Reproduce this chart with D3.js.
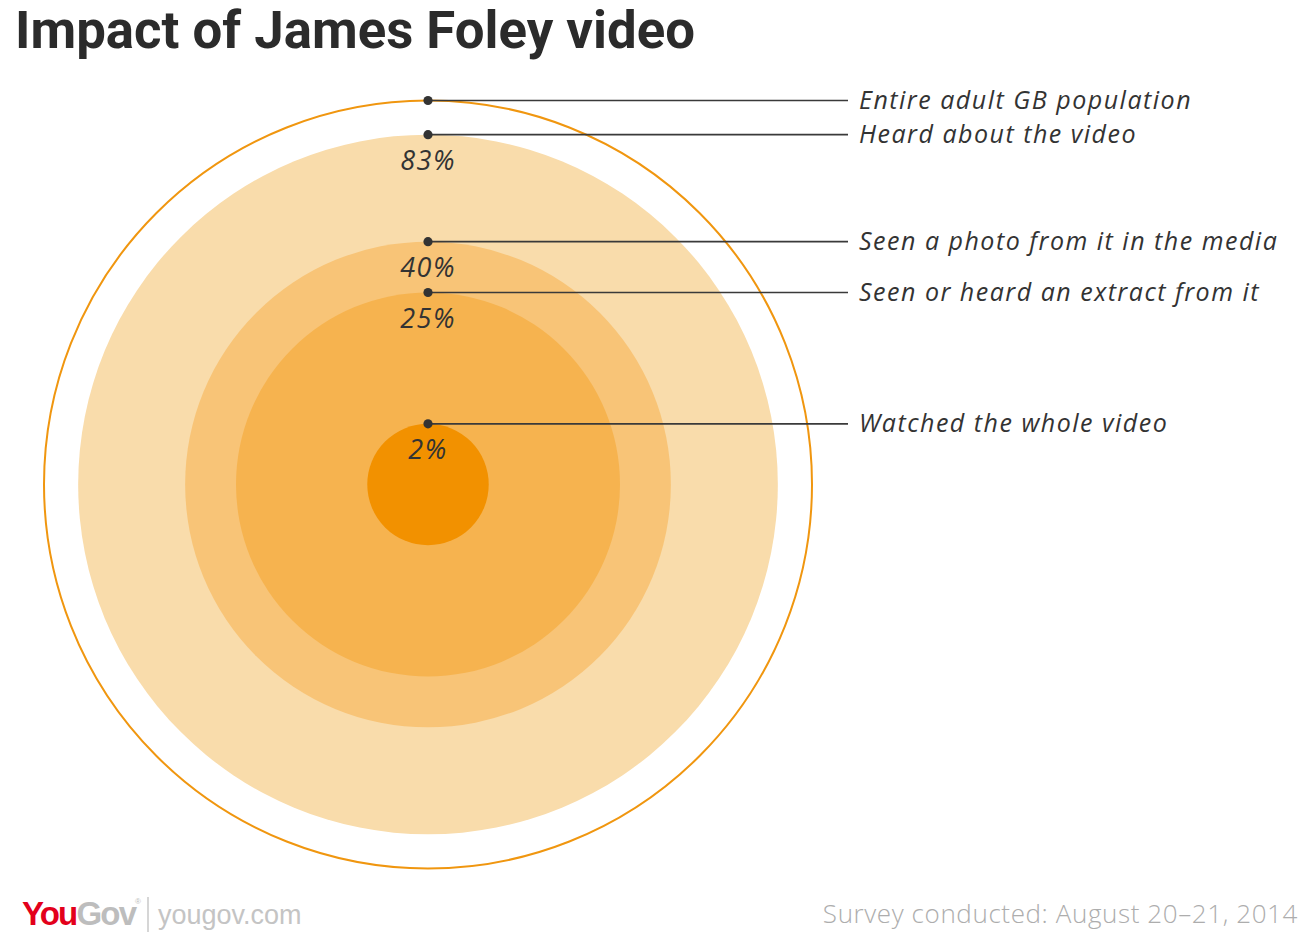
<!DOCTYPE html>
<html>
<head>
<meta charset="utf-8">
<script src="https://cdn.jsdelivr.net/npm/d3@7"></script>
<style>
  html, body { margin: 0; padding: 0; background: #fff; }
  svg { display: block; }
</style>
</head>
<body>
<svg id="chart" width="1312" height="935"></svg>
<script>
// ---- data ----
const categories = [
  "Entire adult GB population",
  "Heard about the video",
  "Seen a photo from it in the media",
  "Seen or heard an extract from it",
  "Watched the whole video"
];
const values = [100, 83, 40, 25, 2.5];          // drawn circle areas (% of population)
const valueLabels = ["", "83%", "40%", "25%", "2%"];
const fills = ["#ffffff", "#f9dcab", "#f8c477", "#f6b34f", "#f29100"];
const title = "Impact of James Foley video";
const sourceText = "Survey conducted: August 20\u201321, 2014";

// ---- layout ----
const svg = d3.select("#chart");
const cx = 428, cy = 484.5, R = 384;
const r = d3.scaleSqrt().domain([0, 100]).range([0, R]);
const lineEnd = 848, labelX = 859;

svg.append("text")
  .attr("x", 15).attr("y", 48)
  .attr("font-family", "Roboto, 'Open Sans', sans-serif")
  .attr("font-weight", 700)
  .attr("font-size", 51)
  .attr("fill", "#2b2b2b")
  .attr("textLength", 680)
  .attr("lengthAdjust", "spacingAndGlyphs")
  .text(title);

const g = svg.append("g");

g.selectAll("circle.ring")
  .data(values)
  .join("circle")
  .attr("class", "ring")
  .attr("cx", cx).attr("cy", cy)
  .attr("r", d => r(d))
  .attr("fill", (d, i) => fills[i])
  .attr("stroke", (d, i) => i === 0 ? "#f0960f" : "none")
  .attr("stroke-width", 2);

// leader lines
g.selectAll("line.leader")
  .data(values)
  .join("line")
  .attr("class", "leader")
  .attr("x1", cx).attr("x2", lineEnd)
  .attr("y1", d => cy - r(d)).attr("y2", d => cy - r(d))
  .attr("stroke", "#3a3a3a")
  .attr("stroke-width", 1.7);

g.selectAll("circle.dot")
  .data(values)
  .join("circle")
  .attr("class", "dot")
  .attr("cx", cx).attr("cy", d => cy - r(d))
  .attr("r", 4.6)
  .attr("fill", "#333");

g.selectAll("text.pct")
  .data(values)
  .join("text")
  .attr("class", "pct")
  .attr("x", cx).attr("y", d => cy - r(d) + 35)
  .attr("text-anchor", "middle")
  .attr("font-family", "'Open Sans', sans-serif")
  .attr("font-style", "italic")
  .attr("font-size", 27)
  .attr("letter-spacing", 1.5)
  .attr("fill", "#333")
  .text((d, i) => valueLabels[i]);

g.selectAll("text.cat")
  .data(values)
  .join("text")
  .attr("class", "cat")
  .attr("x", labelX).attr("y", d => cy - r(d) + 8.5)
  .attr("font-family", "'Open Sans', sans-serif")
  .attr("font-style", "italic")
  .attr("font-size", 25)
  .attr("letter-spacing", 1.5)
  .attr("fill", "#333")
  .text((d, i) => categories[i]);

// footer
const foot = svg.append("g");
const logo = foot.append("text")
  .attr("x", 22).attr("y", 925)
  .attr("font-family", "'Liberation Sans', Arial, sans-serif")
  .attr("font-weight", 700)
  .attr("font-size", 33)
  .attr("letter-spacing", -1.8);
logo.append("tspan").attr("fill", "#e3001b").text("You");
logo.append("tspan").attr("fill", "#bdbdbd").text("Gov");
foot.append("text")
  .attr("x", 135).attr("y", 904)
  .attr("font-family", "'Liberation Sans', Arial, sans-serif")
  .attr("font-size", 8).attr("fill", "#bdbdbd").text("\u00ae");
foot.append("line")
  .attr("x1", 148).attr("x2", 148).attr("y1", 897).attr("y2", 932)
  .attr("stroke", "#c8c8c8").attr("stroke-width", 1.5);
foot.append("text")
  .attr("x", 158).attr("y", 924)
  .attr("font-family", "'Liberation Sans', Arial, sans-serif")
  .attr("font-size", 27)
  .attr("fill", "#c4c4c4")
  .text("yougov.com");
foot.append("text")
  .attr("x", 1298).attr("y", 923)
  .attr("text-anchor", "end")
  .attr("font-family", "'Open Sans', sans-serif")
  .attr("font-weight", 300)
  .attr("font-size", 26)
  .attr("letter-spacing", 0.6)
  .attr("fill", "#adadad")
  .text(sourceText);
</script>
</body>
</html>
